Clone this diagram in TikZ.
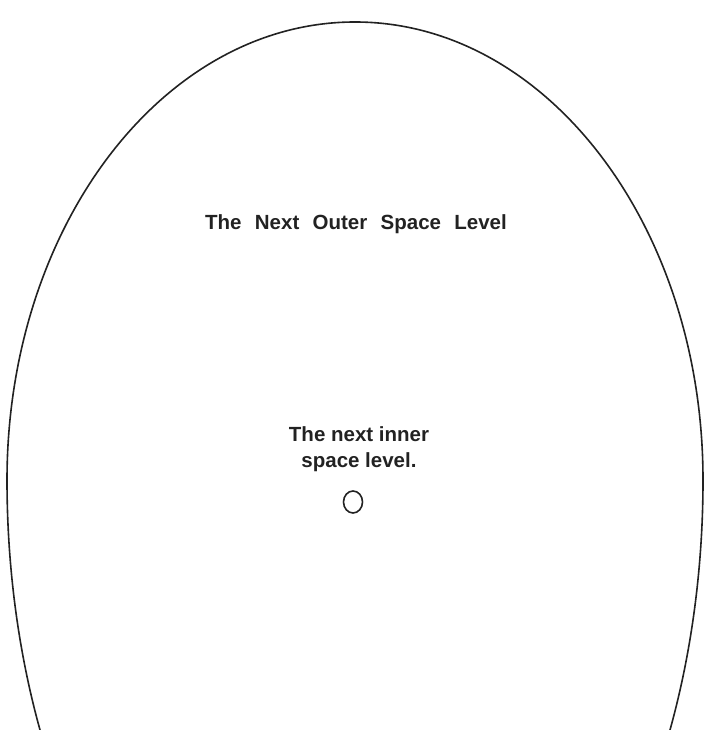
\documentclass[tikz,border=0pt]{standalone}
\usepackage{fontspec}
\setmainfont{Liberation Sans}
\usetikzlibrary{shapes.geometric}
\definecolor{ink}{HTML}{222222}
\begin{document}
\begin{tikzpicture}[x=1pt,y=1pt,
  outline/.style={draw=ink,line width=1.6pt},
  label/.style={text=ink,font=\bfseries\fontsize{20.5}{26}\selectfont,inner sep=0pt,align=center}]
\useasboundingbox (0,0) rectangle (704,730);
\begin{scope}
\clip (0,0) rectangle (704,730);
\draw[outline] (7,250) arc[start angle=180,end angle=0,x radius=348,y radius=458]
  arc[start angle=0,end angle=-40,x radius=348,y radius=588];
\draw[outline] (7,250) arc[start angle=180,end angle=220,x radius=348,y radius=588];
\end{scope}
\node[label,anchor=base] (outer) at (356,500) {The\hspace*{0.65em}Next\hspace*{0.65em}Outer\hspace*{0.65em}Space\hspace*{0.65em}Level};
\node[label,anchor=base] (inner) at (359,288) {The next inner};
\node[label,anchor=base] (inner2) at (359,262) {space level.};
\node[draw=ink,line width=1.6pt,ellipse,minimum width=19pt,minimum height=22pt,inner sep=0pt] (dot) at (353,228) {};
\end{tikzpicture}
\end{document}
